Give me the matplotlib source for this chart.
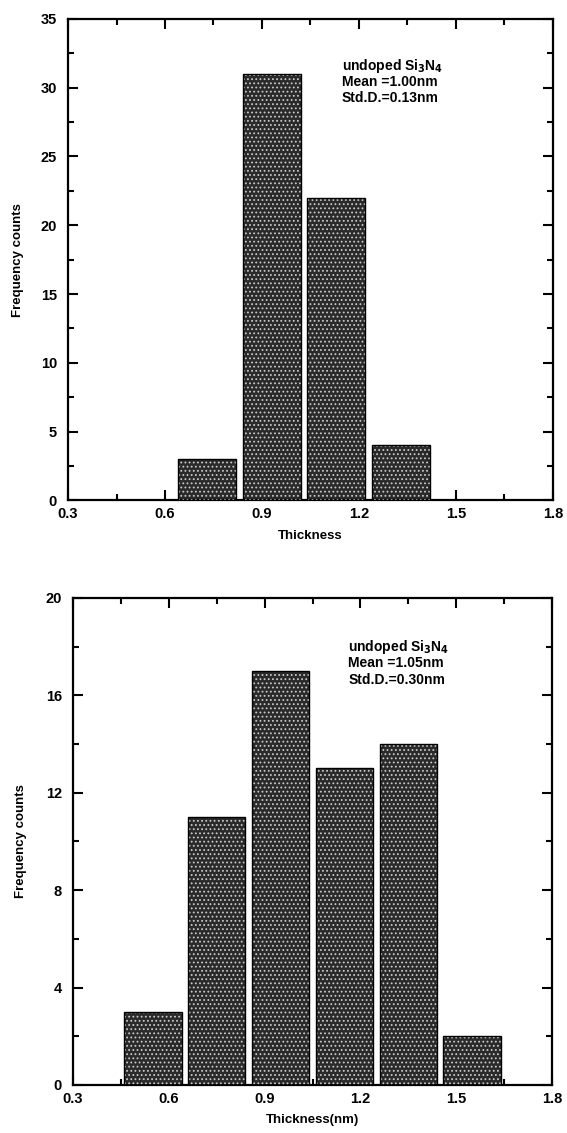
import matplotlib
matplotlib.use("Agg")
import matplotlib.pyplot as plt
from matplotlib.ticker import MultipleLocator

plt.rcParams['font.family'] = ['Liberation Sans', 'DejaVu Sans']
plt.rcParams['font.weight'] = 'bold'
plt.rcParams['hatch.linewidth'] = 0.8

# top histogram
top_centers = [0.73, 0.93, 1.13, 1.33]
top_counts = [3, 31, 22, 4]
top_note = ["undoped Si$_\\mathbf{3}$N$_\\mathbf{4}$", "Mean =1.00nm", "Std.D.=0.13nm"]

# bottom histogram
bot_centers = [0.55, 0.75, 0.95, 1.15, 1.35, 1.55]
bot_counts = [3, 11, 17, 13, 14, 2]
bot_note = ["undoped Si$_\\mathbf{3}$N$_\\mathbf{4}$", "Mean =1.05nm", "Std.D.=0.30nm"]

x_ticks = [0.3, 0.6, 0.9, 1.2, 1.5, 1.8]
bar_w = 0.18

fig = plt.figure(figsize=(5.67, 11.33), dpi=100)
ax1 = fig.add_axes([0.120, 0.5583, 0.855, 0.425])
ax2 = fig.add_axes([0.1287, 0.0424, 0.845, 0.4298])


def draw(ax, centers, counts, ymax, ymaj, xlabel, note, note_xy, ylpad):
    ax.bar(centers, counts, width=bar_w, color='#2a2a2a', edgecolor='none', zorder=2)
    ax.bar(centers, counts, width=bar_w, fill=False, hatch='....', edgecolor='#c8c8c8',
           linewidth=0, zorder=3)
    ax.bar(centers, counts, width=bar_w, fill=False, edgecolor='black', linewidth=1.0, zorder=4)
    ax.set_xticks(x_ticks)
    ax.set_xticklabels(['%.1f' % t for t in x_ticks])
    ax.xaxis.set_minor_locator(MultipleLocator(0.15))
    ax.yaxis.set_major_locator(MultipleLocator(ymaj))
    ax.yaxis.set_minor_locator(MultipleLocator(ymaj / 2))
    ax.set_xlim(0.3, 1.8)
    ax.set_ylim(0, ymax)
    ax.tick_params(which='both', direction='in', top=True, right=True, width=1.5,
                   labelsize=10.5)
    ax.tick_params(which='major', length=7)
    ax.tick_params(which='minor', length=4)
    ax.tick_params(axis='x', pad=5)
    ax.tick_params(axis='y', pad=8)
    for s in ax.spines.values():
        s.set_linewidth(1.6)
    ax.set_xlabel(xlabel, fontsize=9.5, fontweight='bold', labelpad=6)
    ax.set_ylabel('Frequency counts', fontsize=9.5, fontweight='bold', labelpad=ylpad)
    x0, y0 = note_xy
    for i, line in enumerate(note):
        ax.text(x0, y0 - i * 0.034, line, transform=ax.transAxes, fontsize=10,
                fontweight='bold', va='center', ha='left')


draw(ax1, top_centers, top_counts, 35, 5, 'Thickness', top_note, (0.565, 0.903), 12)
draw(ax2, bot_centers, bot_counts, 20, 4, 'Thickness(nm)', bot_note, (0.575, 0.90), 13)

fig.savefig('out.png', dpi=100)
